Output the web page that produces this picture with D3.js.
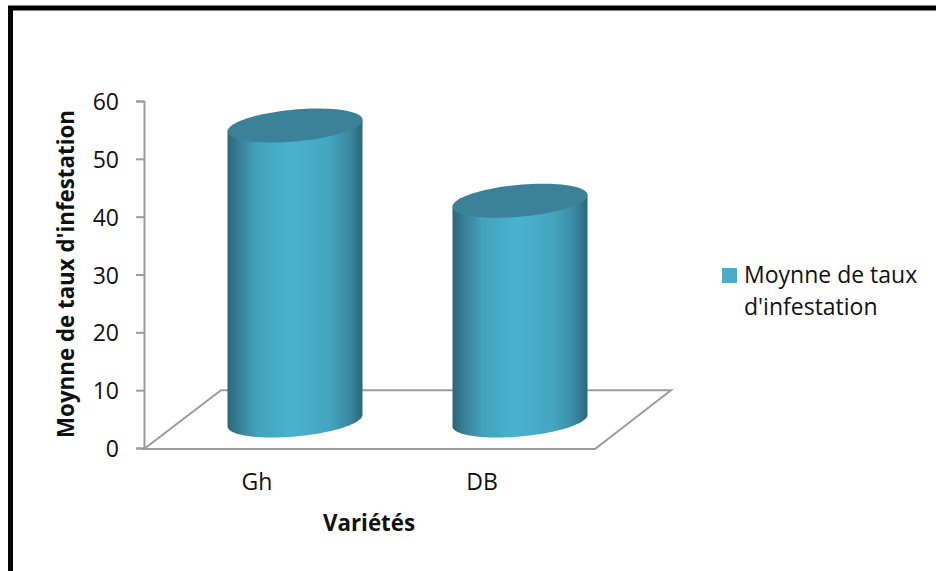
<!DOCTYPE html>
<html><head><meta charset="utf-8">
<script src="https://cdn.jsdelivr.net/npm/d3@7/dist/d3.min.js"></script>
<style>html,body{margin:0;padding:0;background:#fff}svg{display:block}text{font-family:"Open Sans",sans-serif;fill:#111}</style>
</head><body><svg id="c" width="936" height="571"></svg>
<script>
const categories = ["Gh", "DB"];
const seriesName = ["Moynne de taux", "d'infestation"];
const values = [51, 38];
const tickValues = [0, 10, 20, 30, 40, 50, 60];
const yTitle = "Moynne de taux d'infestation";
const xTitle = "Variétés";

const svg = d3.select("#c");
const y = d3.scaleLinear().domain([0, 60]).range([448, 101]);
const xFront = d3.scalePoint().domain(categories).range([257, 482]);
const depthX = 38, lift = 27.5, a = 67.5, b = 16, k = 5.8;
const cxOf = c => xFront(c) + depthX;

// frame
svg.append("path").attr("d", "M10.5,571V8H936").attr("fill", "none").attr("stroke", "#000").attr("stroke-width", 5);

// gradient
const defs = svg.append("defs");
const g = defs.append("linearGradient").attr("id", "cyl");
[[0, "#2d6679"], [0.08, "#377d94"], [0.22, "#43a2bc"], [0.47, "#4ab3cf"], [0.75, "#44a5bf"], [0.9, "#3a8aa2"], [1, "#2d6679"]]
  .forEach(([o, col]) => g.append("stop").attr("offset", o).attr("stop-color", col));

// floor
const xR = 595, depthW = 76, backY = y(10);
svg.append("path")
  .attr("d", d3.line()([[144, 449], [xR, 449], [xR + depthW, backY], [144 + depthW + 1, backY]]) + "Z")
  .attr("fill", "none").attr("stroke", "#9c9c9c").attr("stroke-width", 2);

// axis
const ax = svg.append("g").attr("transform", "translate(144,0)").call(d3.axisLeft(y).tickValues(tickValues).tickSize(8).tickPadding(17));
ax.selectAll("line,path").attr("stroke", "#9c9c9c").attr("stroke-width", 2);
ax.selectAll("text").attr("font-size", 23).attr("dy", "0.37em").attr("fill", "#111").style("font-family", '"Open Sans",sans-serif');

// cylinders
const ell = (cx, cy, from, to) => d3.range(from, to + 1, 4).map(d => {
  const t = d * Math.PI / 180;
  return [cx + a * Math.cos(t), cy + b * Math.sin(t) - k * Math.cos(t)];
});
const line = d3.line();
categories.forEach((c, i) => {
  const cx = cxOf(c), base = y(0) - lift, top = y(values[i]) - lift;
  const body = [[cx - a, top + k], ...ell(cx, base, 0, 180).reverse(), [cx + a, top - k]];
  svg.append("path").attr("d", line(body) + "Z").attr("fill", "url(#cyl)");
  svg.append("path").attr("d", line(ell(cx, top, 0, 360)) + "Z").attr("fill", "#3b8299");
});

// category labels
svg.selectAll(".cat").data(categories).join("text").attr("class", "cat")
  .attr("x", d => xFront(d)).attr("y", 490).attr("text-anchor", "middle").attr("font-size", 23).text(d => d);

// titles
svg.append("text").attr("x", 369).attr("y", 531).attr("text-anchor", "middle").attr("font-size", 22.3).attr("font-weight", 700).text(xTitle);
svg.append("text").attr("transform", "translate(74,274) rotate(-90)").attr("text-anchor", "middle").attr("font-size", 22.3).attr("font-weight", 700).text(yTitle);

// legend
svg.append("rect").attr("x", 722).attr("y", 268).attr("width", 15).attr("height", 15).attr("fill", "#4aacc6");
svg.selectAll(".leg").data(seriesName).join("text").attr("class", "leg")
  .attr("x", 744).attr("y", (d, i) => 283 + i * 32).attr("font-size", 23).text(d => d);
</script></body></html>
